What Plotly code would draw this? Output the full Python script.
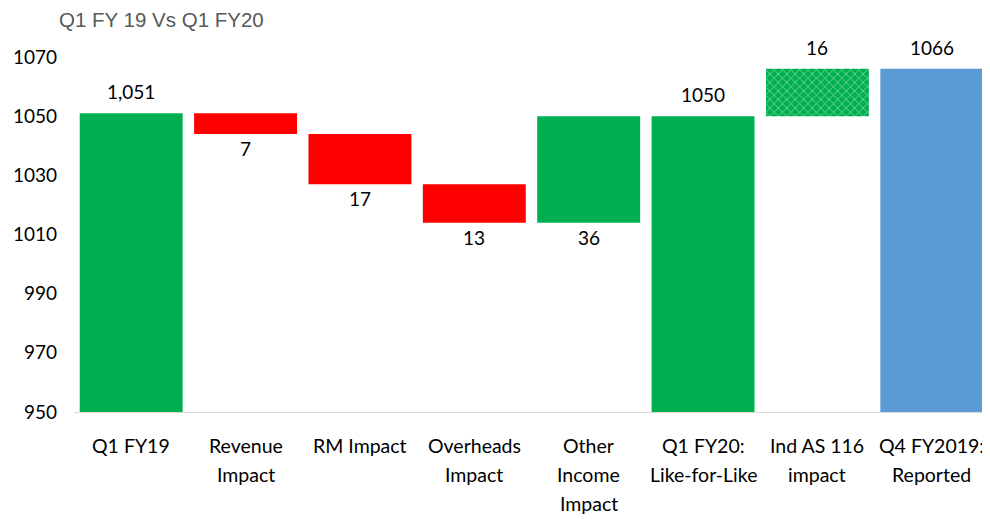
import plotly.graph_objects as go

# waterfall data
categories = ["Q1 FY19", "Revenue<br>Impact", "RM Impact", "Overheads<br>Impact",
              "Other<br>Income<br>Impact", "Q1 FY20:<br>Like-for-Like",
              "Ind AS 116<br>impact", "Q4 FY2019:<br>Reported"]
changes = [1051, -7, -17, -13, 36, 1050, 16, 1066]
kinds = ["total", "delta", "delta", "delta", "delta", "total", "delta", "total"]
labels = ["1,051", "7", "17", "13", "36", "1050", "16", "1066"]
colors = ["#00b050", "#ff0000", "#ff0000", "#ff0000", "#00b050", "#00b050", "#00b050", "#5b9bd5"]
title_text = "Q1 FY 19 Vs Q1 FY20"

AXIS_MIN = 950
AXIS_MAX = 1070
FONT = "Lato"
W, H = 982, 511  # page body has an 8px margin

bases, heights = [], []
level = AXIS_MIN
for kind, v in zip(kinds, changes):
    if kind == "total":
        bases.append(AXIS_MIN)
        heights.append(v - AXIS_MIN)
        level = v
    else:
        bases.append(level)
        heights.append(v)
        level += v

patterns = [""] * len(categories)
patterns[6] = "x"

fig = go.Figure()
fig.add_trace(go.Bar(
    x=categories, y=heights, base=bases,
    marker=dict(color=colors, line=dict(width=0),
                pattern=dict(shape=patterns, fgcolor="white", bgcolor=colors,
                             size=6, solidity=0.25, fillmode="overlay")),
    hoverinfo="skip",
))

annotations = []
for i, (b, h, lab) in enumerate(zip(bases, heights, labels)):
    top = b + max(h, 0)
    bottom = b + min(h, 0)
    # labels above for totals and the Ind AS step, below for the others
    if kinds[i] == "total" or i == 6:
        annotations.append(dict(x=categories[i], y=top, text=lab, showarrow=False,
                                yanchor="bottom", yshift=8))
    else:
        annotations.append(dict(x=categories[i], y=bottom, text=lab, showarrow=False,
                                yanchor="top", yshift=-1))

# category labels, one annotation per line for wider line spacing
for cat in categories:
    for k, line in enumerate(cat.split("<br>")):
        annotations.append(dict(x=cat, y=0, yref="paper", text=line, showarrow=False,
                                yanchor="middle", yshift=-33 - 29 * k,
                                font=dict(family=FONT, size=19.5)))

# chart title as a paper annotation above the plot
annotations.append(dict(text=title_text, xref="paper", yref="paper", x=0, y=1,
                        xanchor="left", yanchor="middle", xshift=-17, yshift=38,
                        showarrow=False,
                        font=dict(family="Liberation Sans", size=20.5, color="#595959")))

fig.update_layout(
    width=W, height=H,
    margin=dict(l=66, r=1, t=49, b=107),
    paper_bgcolor="white", plot_bgcolor="white",
    font=dict(family=FONT, size=19, color="black"),
    bargap=0.1,
    showlegend=False,
    annotations=annotations,
    xaxis=dict(showline=True, linecolor="#d9d9d9", linewidth=1, ticks="",
               showticklabels=False, automargin=False),
    yaxis=dict(range=[AXIS_MIN, AXIS_MAX], tick0=AXIS_MIN, dtick=20, showgrid=False,
               zeroline=False, ticks="", ticklabelstandoff=16, automargin=False,
               tickfont=dict(family=FONT, size=19)),
)

fig.write_html("out.html")
